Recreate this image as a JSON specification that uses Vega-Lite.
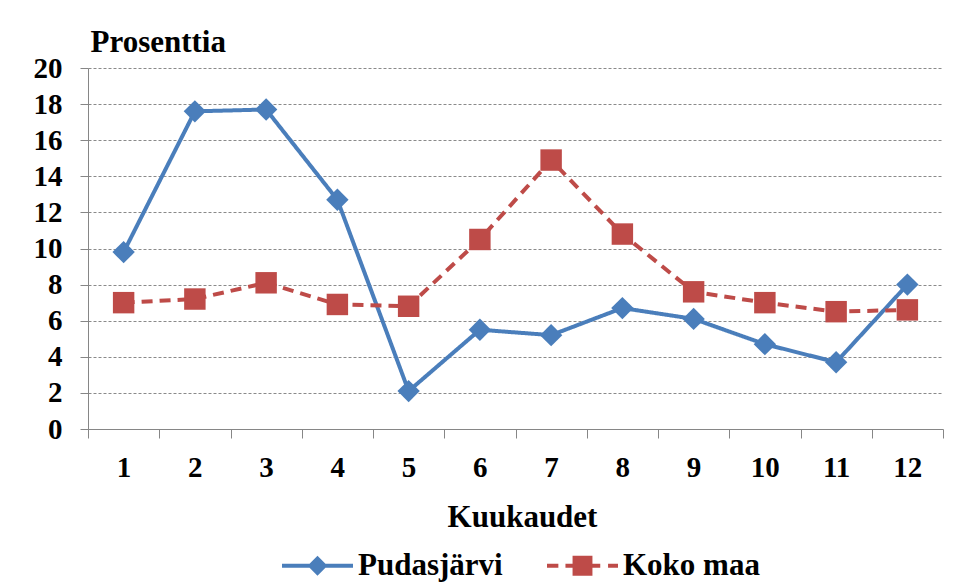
{
  "$schema": "https://vega.github.io/schema/vega-lite/v6.json",
  "width": 855,
  "height": 361,
  "autosize": {"type": "none"},
  "padding": {"left": 88, "top": 68, "right": 17, "bottom": 153},
  "background": "white",
  "config": {
    "view": {"stroke": null},
    "font": "Liberation Serif"
  },
  "data": {
    "values": [
      {"kuukausi": 1, "sarja": "Pudasjärvi", "prosentti": 9.8},
      {"kuukausi": 2, "sarja": "Pudasjärvi", "prosentti": 17.6},
      {"kuukausi": 3, "sarja": "Pudasjärvi", "prosentti": 17.7},
      {"kuukausi": 4, "sarja": "Pudasjärvi", "prosentti": 12.7},
      {"kuukausi": 5, "sarja": "Pudasjärvi", "prosentti": 2.1},
      {"kuukausi": 6, "sarja": "Pudasjärvi", "prosentti": 5.5},
      {"kuukausi": 7, "sarja": "Pudasjärvi", "prosentti": 5.2},
      {"kuukausi": 8, "sarja": "Pudasjärvi", "prosentti": 6.7},
      {"kuukausi": 9, "sarja": "Pudasjärvi", "prosentti": 6.1},
      {"kuukausi": 10, "sarja": "Pudasjärvi", "prosentti": 4.7},
      {"kuukausi": 11, "sarja": "Pudasjärvi", "prosentti": 3.7},
      {"kuukausi": 12, "sarja": "Pudasjärvi", "prosentti": 8.0},
      {"kuukausi": 1, "sarja": "Koko maa", "prosentti": 7.0},
      {"kuukausi": 2, "sarja": "Koko maa", "prosentti": 7.2},
      {"kuukausi": 3, "sarja": "Koko maa", "prosentti": 8.1},
      {"kuukausi": 4, "sarja": "Koko maa", "prosentti": 6.9},
      {"kuukausi": 5, "sarja": "Koko maa", "prosentti": 6.8},
      {"kuukausi": 6, "sarja": "Koko maa", "prosentti": 10.5},
      {"kuukausi": 7, "sarja": "Koko maa", "prosentti": 14.9},
      {"kuukausi": 8, "sarja": "Koko maa", "prosentti": 10.8},
      {"kuukausi": 9, "sarja": "Koko maa", "prosentti": 7.6},
      {"kuukausi": 10, "sarja": "Koko maa", "prosentti": 7.0},
      {"kuukausi": 11, "sarja": "Koko maa", "prosentti": 6.5},
      {"kuukausi": 12, "sarja": "Koko maa", "prosentti": 6.6}
    ]
  },
  "encoding": {
    "x": {
      "field": "kuukausi",
      "type": "quantitative",
      "scale": {"domain": [0.5, 12.5], "nice": false, "zero": false},
      "axis": {
        "values": [0.5, 1.5, 2.5, 3.5, 4.5, 5.5, 6.5, 7.5, 8.5, 9.5, 10.5, 11.5, 12.5],
        "labelExpr": "datum.value < 12 ? format(datum.value + 0.5, 'd') : ''",
        "labelAlign": "center",
        "labelBaseline": "alphabetic",
        "labelPadding": 38,
        "labelOffset": 35.6,
        "labelFont": "Liberation Serif",
        "labelFontSize": 29,
        "labelFontWeight": "bold",
        "labelColor": "black",
        "labelFlush": false,
        "labelOverlap": false,
        "tickSize": 9,
        "tickColor": "#868686",
        "tickWidth": 1,
        "domainColor": "#868686",
        "domainWidth": 1,
        "grid": false,
        "title": "Kuukaudet",
        "titleFont": "Liberation Serif",
        "titleFontSize": 31,
        "titleFontWeight": "bold",
        "titleColor": "black",
        "titleX": 434,
        "titleY": 97,
        "titleAlign": "center",
        "titleBaseline": "alphabetic"
      }
    },
    "y": {
      "field": "prosentti",
      "type": "quantitative",
      "scale": {"domain": [0, 20], "nice": false},
      "axis": {
        "values": [0, 2, 4, 6, 8, 10, 12, 14, 16, 18, 20],
        "labelFont": "Liberation Serif",
        "labelFontSize": 29,
        "labelFontWeight": "bold",
        "labelColor": "black",
        "labelPadding": 18,
        "labelBaseline": "middle",
        "labelFlush": false,
        "labelOverlap": false,
        "tickSize": 8,
        "tickColor": "#868686",
        "domainColor": "#868686",
        "grid": true,
        "gridColor": "#8a8a8a",
        "gridDash": [3, 2],
        "gridWidth": 1,
        "title": "Prosenttia",
        "titleFont": "Liberation Serif",
        "titleFontSize": 31,
        "titleFontWeight": "bold",
        "titleColor": "black",
        "titleAngle": 0,
        "titleX": 2,
        "titleY": -17,
        "titleAlign": "left",
        "titleBaseline": "alphabetic"
      }
    },
    "color": {
      "field": "sarja",
      "type": "nominal",
      "scale": {"domain": ["Pudasjärvi", "Koko maa"], "range": ["#4A7EBB", "#BE4B48"]},
      "legend": {
        "orient": "none",
        "legendX": 194,
        "legendY": 462,
        "direction": "horizontal",
        "title": null,
        "padding": 0,
        "symbolSize": 5041,
        "labelFont": "Liberation Serif",
        "labelFontSize": 31,
        "labelFontWeight": "bold",
        "labelColor": "black",
        "labelOffset": 5,
        "labelLimit": 400,
        "columnPadding": 44,
        "encode": {
          "symbols": {
            "update": {
              "shape": {"signal": "datum.value === 'Pudasjärvi' ? 'M-1,-0.056H1V0.056H-1Z M0,-0.28L0.28,0L0,0.28L-0.28,0Z' : 'M-1,-0.056H-0.68V0.056H-1Z M-0.48,-0.056H0.5V0.056H-0.48Z M-0.28,-0.28H0.28V0.28H-0.28Z M0.72,-0.056H1V0.056H0.72Z'"},
              "fill": {"signal": "datum.value === 'Pudasjärvi' ? '#4A7EBB' : '#BE4B48'"},
              "stroke": {"value": "transparent"},
              "strokeWidth": {"value": 0},
              "opacity": {"value": 1},
              "size": {"value": 5041}
            }
          }
        }
      }
    }
  },
  "layer": [
    {
      "mark": {"type": "line", "strokeWidth": 4, "strokeJoin": "round"},
      "encoding": {
        "strokeDash": {
          "field": "sarja",
          "type": "nominal",
          "scale": {"domain": ["Pudasjärvi", "Koko maa"], "range": [[1, 0], [11, 7]]},
          "legend": null
        }
      }
    },
    {
      "transform": [{"filter": "datum.sarja === 'Koko maa'"}],
      "mark": {"type": "point", "filled": true, "opacity": 1, "strokeWidth": 0, "shape": "square", "size": 460}
    },
    {
      "transform": [{"filter": "datum.sarja === 'Pudasjärvi'"}],
      "mark": {"type": "point", "filled": true, "opacity": 1, "strokeWidth": 0, "shape": "diamond", "size": 500}
    }
  ]
}
